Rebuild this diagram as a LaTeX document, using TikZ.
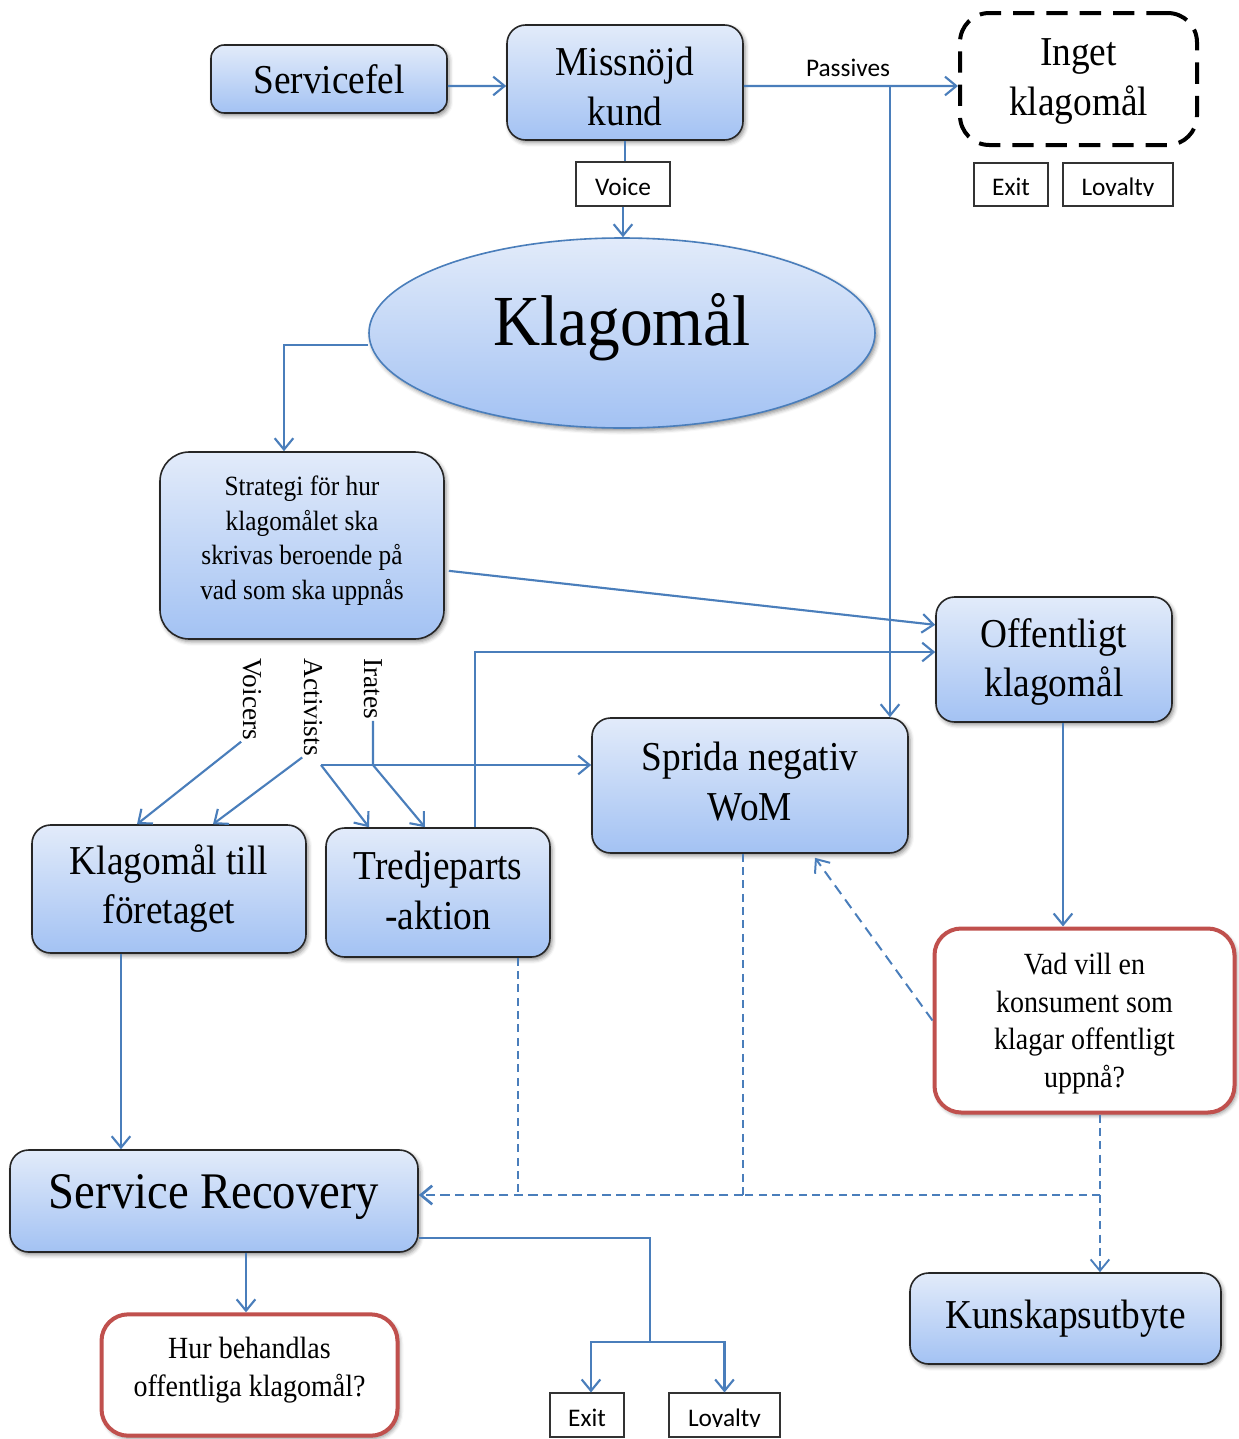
\documentclass[tikz,border=0pt]{standalone}
\usepackage{fontspec}
\setmainfont{Liberation Serif}
\newfontfamily\calfont{Carlito}
\usepackage{graphicx}
\usepackage{trimclip}
\usetikzlibrary{arrows.meta,shapes.geometric,shadows.blur,calc}
\definecolor{lnc}{HTML}{4A7EBB}
\definecolor{topc}{HTML}{E2EBFA}
\definecolor{botc}{HTML}{A3C2F3}
\definecolor{redb}{HTML}{C0504D}
\newcommand\vs[1]{\scalebox{1}[1.1]{#1}}
\newcommand\ml[3]{\vs{\fontsize{#1}{#2}\selectfont\begin{tabular}{@{}c@{}}#3\end{tabular}}}
\newcommand\sh[2]{\raisebox{#1}[\height][\depth]{#2}}
\newcommand\cutdesc[1]{\clipbox{0pt 2.9pt 0pt 0pt}{#1}}
\begin{document}
\begin{tikzpicture}[x=0.75pt,y=-0.75pt,
  tip/.style={-{Straight Barb[length=8.5pt,width=14pt]}},
  line/.style={draw=lnc,line width=1.6pt},
  conn/.style={line,tip},
  dline/.style={draw=lnc,line width=1.4pt,dash pattern=on 6pt off 4pt},
  dconn/.style={dline,tip},
  shad/.style={blur shadow={shadow xshift=1.5pt,shadow yshift=-2pt,shadow blur radius=3pt,shadow opacity=45}},
  bbox/.style={draw=black!85,line width=1.2pt,rounded corners=14pt,top color=topc,bottom color=botc,shad,inner sep=0pt},
  rbox/.style={draw=redb,line width=3pt,rounded corners=20pt,fill=white,shad,inner sep=0pt},
  sbox/.style={draw=black!80,line width=0.8pt,fill=white,inner sep=0pt},
  cfont/.style={font=\calfont\fontsize{19}{22}\selectfont},
  lbox/.style={sbox,cfont,text depth=8pt,text height=#1},
  rlab/.style={rotate=-90,anchor=west,inner sep=1pt,font=\fontsize{20.5}{24}\selectfont}
]
\useasboundingbox (0,0) rectangle (1239,1439);

% nodes
\node[bbox,rounded corners=10pt,minimum width=177pt,minimum height=51pt] (serv) at (329,79) {\sh{-3.75pt}{\ml{28}{34}{Servicefel}}};
\node[bbox,minimum width=177pt,minimum height=86.25pt] (miss) at (625,82.5) {\sh{-6pt}{\ml{28}{34}{Missnöjd\\kund}}};
\node[lbox=25pt,minimum width=70.5pt,minimum height=33pt] (voice) at (623,184) {Voice};
\node[draw=black,line width=3pt,dash pattern=on 16pt off 9pt,rounded corners=22pt,fill=white,inner sep=0pt,minimum width=177.75pt,minimum height=99pt] (inget) at (1078.5,79) {\sh{-1pt}{\ml{28}{34}{Inget\\klagomål}}};
\node[lbox=24.25pt,minimum width=55.5pt,minimum height=32.25pt] (exit1) at (1011,184.5) {Exit};
\node[lbox=24.25pt,minimum width=82.5pt,minimum height=32.25pt] (loy1) at (1118,184.5) {\cutdesc{Loyalty}};
\node[cfont] (plab) at (848,68) {Passives};

\node[ellipse,draw=lnc,line width=1.2pt,top color=topc,bottom color=botc,shad,inner sep=0pt,minimum width=379.5pt,minimum height=142.5pt] (ell) at (622,333) {\sh{4.5pt}{\vs{\fontsize{49}{55}\selectfont Klagomål}}};

\node[bbox,rounded corners=22pt,minimum width=213pt,minimum height=140.25pt] (strat) at (302,545.5) {\sh{3.75pt}{\ml{19}{23.5}{Strategi för hur\\klagomålet ska\\skrivas beroende på\\vad som ska uppnås}}};
\node[bbox,minimum width=177pt,minimum height=93.75pt] (off) at (1054,659.5) {\sh{-1.9pt}{\ml{28}{34}{Offentligt\\klagomål}}};
\node[bbox,minimum width=237pt,minimum height=101.25pt] (spr) at (750,785.5) {\ml{28}{34}{Sprida negativ\\WoM}};
\node[bbox,minimum width=205.5pt,minimum height=96pt] (kt) at (169,889) {\ml{28}{34}{Klagomål till\\företaget}};
\node[bbox,minimum width=168pt,minimum height=96.75pt] (tred) at (438,892.5) {\sh{-1.5pt}{\ml{28}{34}{Tredjeparts\\-aktion}}};

\node[rlab] (vlab) at (252,657) {Voicers};
\node[rlab] (alab) at (313,657) {Activists};
\node[rlab] (ilab) at (373,657) {Irates};

\node[rbox,minimum width=225pt,minimum height=138pt] (vad) at (1084.5,1020.5) {\sh{-2.25pt}{\ml{21}{25.7}{Vad vill en\\konsument som\\klagar offentligt\\uppnå?}}};
\node[bbox,minimum width=306pt,minimum height=76.5pt] (sr) at (214,1201) {\sh{3pt}{\vs{\fontsize{35}{40}\selectfont Service Recovery}}};
\node[rbox,minimum width=222pt,minimum height=91pt] (hur) at (249.5,1375) {\sh{3.75pt}{\ml{21}{25.9}{Hur behandlas\\offentliga klagomål?}}};
\node[lbox=25pt,minimum width=55.5pt,minimum height=33pt] (exit2) at (587,1415) {Exit};
\node[lbox=25pt,minimum width=83.25pt,minimum height=33pt] (loy2) at (724.5,1415) {\cutdesc{Loyalty}};
\node[bbox,minimum width=233.25pt,minimum height=68.25pt] (kun) at (1065.5,1318.5) {\ml{28}{34}{Kunskapsutbyte}};

% junctions
\coordinate (j1) at (890,86);
\coordinate (ja) at (321,765);
\coordinate (jb) at (650,1342);
\coordinate (jd) at (1100,1195);

% connectors
\draw[conn] ([yshift=-5.25pt]serv.east) -- ([yshift=-2.6pt]miss.west);
\draw[line] (miss.south) -- (miss.south |- voice.north);
\draw[conn] (voice.south) -- (voice.south |- ell.north);
\draw[conn] ([yshift=-2.6pt]miss.east) -- ([yshift=-5.25pt]inget.west);
\draw[conn] (j1) -- (j1 |- spr.north);
\draw[conn] ([yshift=-9pt]ell.west) -| ([xshift=-13.5pt]strat.north);
\draw[conn] ([xshift=3pt,yshift=-19pt]strat.east) -- ([yshift=26pt]off.west);
\draw[conn] ([xshift=27.75pt]tred.north) |- ([yshift=5.6pt]off.west);

\draw[conn] (vlab.south east) -- ([xshift=-24pt]kt.north);
\draw[conn] (alab.south east) -- ([xshift=33pt]kt.north);
\draw[conn] (ja) -- (ja -| spr.west);
\draw[conn] (ja) -- ([xshift=-51.75pt]tred.north);
\draw[conn] (ilab.east) -- (ilab.east |- ja) -- ([xshift=-9.75pt]tred.north);

\draw[conn] ([xshift=-36pt]kt.south) -- ([xshift=-36pt]kt.south |- sr.north);
\draw[conn] ([xshift=24pt]sr.south) -- ([xshift=24pt]sr.south |- hur.north);
\draw[line] ([yshift=-27.75pt]sr.east) -| (jb);
\draw[conn] (jb) -| ([xshift=3pt]exit2.north);
\draw[conn] (jb) -| (loy2.north);
\draw[conn] ([xshift=6.75pt]off.south) -- ([xshift=6.75pt]off.south |- vad.north);

\draw[dconn,line width=1.5pt,dash pattern=on 8pt off 5pt] (vad.west) -- ([xshift=48.75pt,yshift=-3pt]spr.south);
\draw[dconn] ([xshift=11.6pt]vad.south) -- ([xshift=11.6pt]vad.south |- kun.north);
\draw[dline] ([xshift=-5.25pt]spr.south) -- ([xshift=-5.25pt]spr.south |- jd);
\draw[dline] ([xshift=60pt]tred.south) -- ([xshift=60pt]tred.south |- jd);
\draw[dline] (jd) -- ([xshift=-5.25pt]spr.south |- jd);
\draw[dconn,line width=2pt,dash pattern=on 7pt off 4pt] ([xshift=-5.25pt]spr.south |- jd) -- ([yshift=4.5pt]sr.east);
\end{tikzpicture}
\end{document}
